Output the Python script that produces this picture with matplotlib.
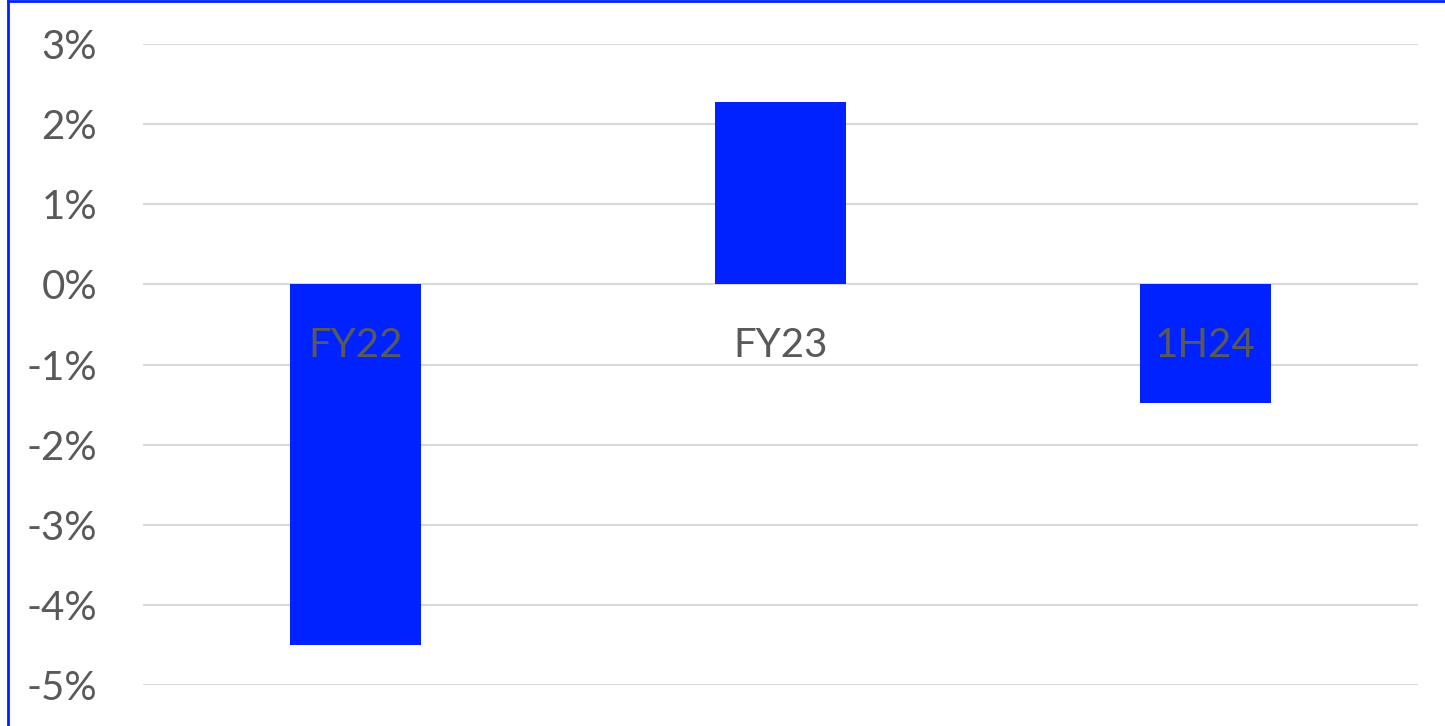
import matplotlib
matplotlib.use("Agg")
import matplotlib.pyplot as plt
from matplotlib.lines import Line2D
from matplotlib.ticker import FuncFormatter

categories = ["FY22", "FY23", "1H24"]
values = [-4.5, 2.27, -1.48]
y_ticks = [-5, -4, -3, -2, -1, 0, 1, 2, 3]

bar_color = "#0022FF"
text_color = "#595959"
grid_color = "#D9D9D9"

plt.rcParams["font.family"] = ["Lato", "DejaVu Sans"]

fig = plt.figure(figsize=(14.45, 7.26), dpi=100)
ax = fig.add_axes([143 / 1445, 41 / 726, (1418 - 143) / 1445, (685 - 44) / 726])

x = list(range(len(categories)))
ax.bar(x, values, width=0.31, color=bar_color, zorder=2)

ax.set_xlim(-0.5, len(categories) - 0.5)
ax.set_ylim(-5, 3)
ax.set_yticks(y_ticks)
ax.yaxis.set_major_formatter(FuncFormatter(lambda v, p: f"{v:.0f}%"))
ax.tick_params(axis="y", length=0, pad=46 * 0.72, labelsize=29, labelcolor=text_color)
ax.set_xticks([])
ax.grid(axis="y", color=grid_color, linewidth=1.5, zorder=0)
for s in ax.spines.values():
    s.set_visible(False)

# category labels just under the zero line
for xi, lab in zip(x, categories):
    ax.annotate(lab, (xi, 0), xytext=(0, -61 * 0.72), textcoords="offset points",
                ha="center", va="center", fontsize=29, color=text_color, zorder=3)

# blue frame (left and top visible)
fig.add_artist(Line2D([7.5 / 1445, 7.5 / 1445], [0, 1 - 1 / 726], transform=fig.transFigure,
                      color="#0022FF", linewidth=2))
fig.add_artist(Line2D([7.5 / 1445, 1], [1 - 1 / 726, 1 - 1 / 726], transform=fig.transFigure,
                      color="#0022FF", linewidth=2))

fig.savefig("out.png", dpi=100)
